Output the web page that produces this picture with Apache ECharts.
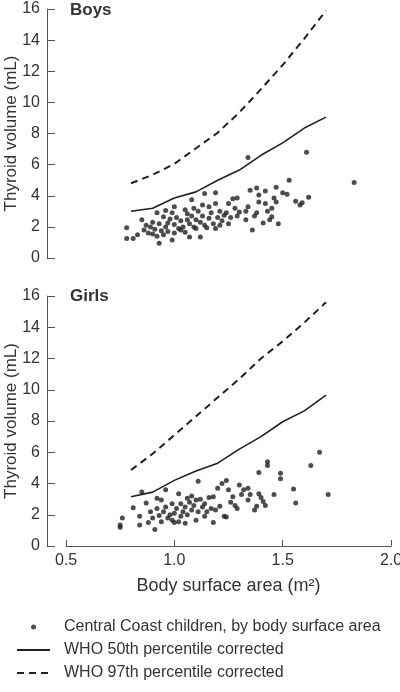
<!DOCTYPE html>
<html>
<head>
<meta charset="utf-8">
<script src="https://cdn.jsdelivr.net/npm/echarts@6/dist/echarts.min.js"></script>
<style>
html,body{margin:0;padding:0;background:#fff;}
#chart{width:400px;height:692px;}
</style>
</head>
<body>
<div id="chart"></div>
<script>
// Reference curves (WHO, corrected) by body surface area
var whoBSA = [0.8, 0.9, 1.0, 1.1, 1.2, 1.3, 1.4, 1.5, 1.6, 1.7];
var boys50 = [3.0, 3.2, 3.85, 4.25, 5.0, 5.65, 6.6, 7.4, 8.35, 9.05];
var boys97 = [4.8, 5.35, 6.05, 7.05, 8.05, 9.35, 10.85, 12.4, 14.1, 15.9];
var girls50 = [3.15, 3.45, 4.2, 4.8, 5.3, 6.2, 7.0, 7.95, 8.65, 9.65];
var girls97 = [4.86, 5.9, 7.1, 8.3, 9.5, 10.7, 12.0, 13.1, 14.3, 15.6];

// Central Coast children
var boysBSA = [0.78,0.78,0.81,0.83,0.85,0.86,0.87,0.88,0.89,0.9,0.9,0.91,0.92,0.92,0.93,0.93,0.94,0.95,0.95,0.96,0.96,0.97,0.97,0.98,0.99,0.99,1.0,1.0,1.0,1.01,1.02,1.03,1.03,1.04,1.05,1.05,1.06,1.06,1.07,1.07,1.08,1.08,1.09,1.09,1.1,1.1,1.11,1.12,1.12,1.13,1.13,1.14,1.14,1.15,1.16,1.16,1.17,1.18,1.19,1.19,1.19,1.2,1.21,1.21,1.22,1.23,1.24,1.25,1.25,1.26,1.27,1.28,1.29,1.29,1.3,1.33,1.33,1.34,1.34,1.35,1.36,1.37,1.38,1.38,1.39,1.39,1.41,1.42,1.42,1.43,1.44,1.45,1.45,1.46,1.47,1.47,1.48,1.5,1.52,1.53,1.56,1.58,1.59,1.61,1.62,1.83];
var boysVol = [1.95,1.25,1.25,1.5,2.45,1.8,2.1,1.6,2.0,1.55,2.3,1.85,2.9,1.4,0.95,2.2,1.75,2.65,1.5,3.05,2.0,2.25,1.7,2.5,1.15,2.9,1.6,3.3,2.15,2.6,1.9,1.8,2.4,2.0,3.1,1.65,2.45,2.85,1.35,2.2,3.75,2.7,2.0,3.2,2.45,1.9,3.0,1.35,2.3,2.7,3.4,4.15,2.1,1.95,3.3,2.55,2.9,2.2,4.2,1.9,3.5,2.6,3.0,2.1,2.4,2.75,2.9,3.5,2.2,2.6,3.8,3.2,3.85,2.7,2.95,2.45,3.0,3.3,6.45,4.35,1.8,2.7,4.5,2.9,3.6,4.05,2.25,4.3,3.5,3.0,2.45,3.2,2.65,3.85,4.55,3.6,2.2,4.2,4.1,5.0,3.65,3.4,3.55,6.8,3.9,4.85];
var girlsBSA = [0.75,0.75,0.76,0.81,0.84,0.84,0.85,0.87,0.88,0.89,0.9,0.91,0.92,0.92,0.93,0.94,0.94,0.95,0.96,0.96,0.97,0.98,0.99,0.99,1.0,1.0,1.01,1.02,1.02,1.03,1.03,1.04,1.05,1.05,1.06,1.06,1.07,1.08,1.08,1.09,1.1,1.1,1.11,1.11,1.12,1.13,1.14,1.14,1.15,1.16,1.17,1.18,1.18,1.19,1.2,1.21,1.22,1.23,1.24,1.24,1.25,1.26,1.27,1.28,1.29,1.3,1.31,1.32,1.34,1.34,1.35,1.37,1.38,1.39,1.39,1.4,1.41,1.42,1.43,1.43,1.46,1.49,1.49,1.55,1.56,1.63,1.67,1.71];
var girlsVol = [1.2,1.35,1.8,2.45,1.9,1.35,3.45,2.75,1.5,2.2,1.8,1.05,3.05,2.4,1.95,2.95,1.55,2.2,3.6,2.5,1.8,2.0,1.65,2.7,2.1,1.5,2.4,1.55,3.35,1.9,2.7,2.2,2.5,1.45,3.05,2.0,2.8,2.3,3.2,2.6,1.65,2.95,4.15,2.2,3.0,2.5,1.9,2.7,2.2,3.1,2.4,3.15,1.5,2.3,3.7,2.55,4.0,1.9,4.2,1.85,3.6,2.8,3.15,2.6,2.4,3.9,3.3,3.6,3.7,2.95,3.3,2.3,2.55,4.7,3.35,3.1,2.85,2.6,5.4,5.15,3.3,4.3,4.65,3.65,2.75,5.15,6.0,3.3];

var yTicks = [0, 2, 4, 6, 8, 10, 12, 14, 16];
var xTicks = [0.5, 1.0, 1.5, 2.0];

var nameScatter = 'Central Coast children, by body surface area';
var name50 = 'WHO 50th percentile corrected';
var name97 = 'WHO 97th percentile corrected';

function zip(a, b) { return a.map(function (v, i) { return [v, b[i]]; }); }

var FONT = '"Liberation Sans", Arial, sans-serif';
var TXT = '#333';
var AX = '#555';
var MARK = '#231f20';
var CLEAR = 'rgba(0,0,0,0)';

function yAxis(gi) {
  return {
    gridIndex: gi, type: 'value', min: yTicks[0], max: yTicks[yTicks.length - 1], interval: 2,
    offset: 19,
    name: 'Thyroid volume (mL)', nameLocation: 'middle', nameGap: 27, nameMoveOverlap: false,
    nameTextStyle: { fontFamily: FONT, fontSize: 17, color: TXT },
    axisLine: { show: true, lineStyle: { color: AX, width: 1 } },
    axisTick: { show: true, inside: true, length: 8, lineStyle: { color: AX } },
    axisLabel: { fontFamily: FONT, fontSize: 16, color: TXT, margin: 7 },
    splitLine: { show: false }
  };
}
function xAxis(gi, show) {
  return {
    gridIndex: gi, type: 'value', min: xTicks[0], max: xTicks[xTicks.length - 1], interval: 0.5,
    show: show,
    name: 'Body surface area (m²)', nameLocation: 'middle', nameGap: 31, nameMoveOverlap: false,
    nameTextStyle: { fontFamily: FONT, fontSize: 18, color: TXT },
    axisLine: { show: true, onZero: false, lineStyle: { color: AX, width: 1 } },
    axisTick: { show: true, inside: true, length: 6, lineStyle: { color: AX } },
    axisLabel: { fontFamily: FONT, fontSize: 16, color: TXT, margin: 7,
      formatter: function (v) { return v.toFixed(1); } },
    splitLine: { show: false }
  };
}
function scatter(gi, xs, ys) {
  return { type: 'scatter', name: nameScatter, xAxisIndex: gi, yAxisIndex: gi,
    data: zip(xs, ys), symbol: 'circle', symbolSize: 5,
    itemStyle: { color: MARK }, silent: true, z: 3 };
}
function line(gi, name, ys, dashed) {
  return { type: 'line', name: name, xAxisIndex: gi, yAxisIndex: gi,
    data: zip(whoBSA, ys), showSymbol: false, symbol: 'none', smooth: false,
    lineStyle: { color: MARK, width: dashed ? 2 : 1.6, type: dashed ? [7, 5] : 'solid' },
    itemStyle: { color: CLEAR, borderWidth: 0 }, silent: true, z: 2 };
}

var chart = echarts.init(document.getElementById('chart'), null, { renderer: 'canvas' });
chart.setOption({
  backgroundColor: '#fff',
  animation: false,
  title: [
    { text: 'Boys', left: 70, top: 2, padding: 0,
      textStyle: { fontFamily: FONT, fontSize: 17, fontWeight: 'bold', color: TXT } },
    { text: 'Girls', left: 70, top: 288, padding: 0,
      textStyle: { fontFamily: FONT, fontSize: 17, fontWeight: 'bold', color: TXT } }
  ],
  grid: [
    { left: 66, top: 9, width: 325, height: 249, containLabel: false, outerBoundsMode: 'none' },
    { left: 66, top: 296, width: 325, height: 250, containLabel: false, outerBoundsMode: 'none' }
  ],
  xAxis: [xAxis(0, false), xAxis(1, true)],
  yAxis: [yAxis(0), yAxis(1)],
  legend: {
    orient: 'vertical', left: 16, top: 618, padding: 0,
    itemWidth: 33, itemHeight: 5, itemGap: 5, selectedMode: false,
    data: [
      { name: nameScatter, icon: 'circle' },
      { name: name50, itemStyle: { color: CLEAR, borderWidth: 0, opacity: 0 } },
      { name: name97, itemStyle: { color: CLEAR, borderWidth: 0, opacity: 0 } }
    ],
    textStyle: { fontFamily: FONT, fontSize: 16, color: TXT, lineHeight: 18, padding: [0, 0, 0, 9] }
  },
  series: [
    scatter(0, boysBSA, boysVol),
    line(0, name50, boys50, false),
    line(0, name97, boys97, true),
    scatter(1, girlsBSA, girlsVol),
    line(1, name50, girls50, false),
    line(1, name97, girls97, true)
  ]
});
</script>
</body>
</html>
